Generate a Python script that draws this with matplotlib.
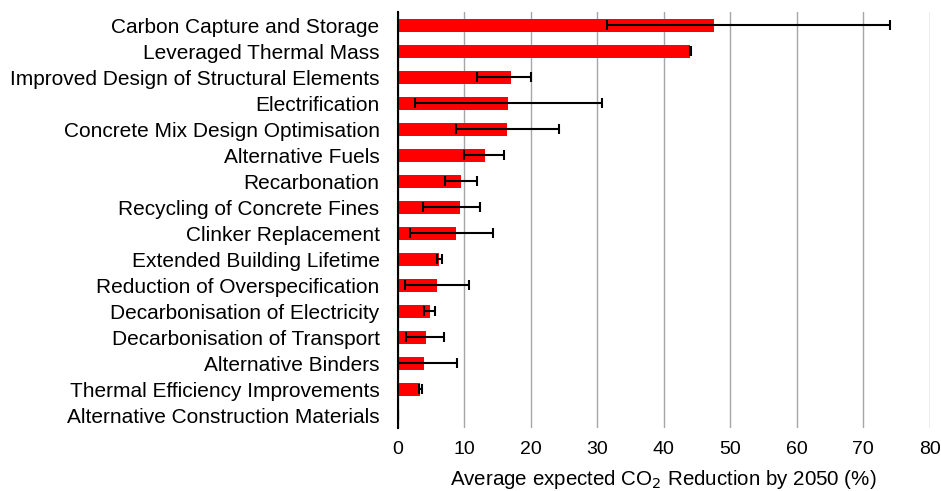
import matplotlib.pyplot as plt
import numpy as np

plt.rcParams['font.family'] = ['Liberation Sans', 'DejaVu Sans']

# 减排措施及其平均预期减排量 (%)
measures = [
    'Carbon Capture and Storage',
    'Leveraged Thermal Mass',
    'Improved Design of Structural Elements',
    'Electrification',
    'Concrete Mix Design Optimisation',
    'Alternative Fuels',
    'Recarbonation',
    'Recycling of Concrete Fines',
    'Clinker Replacement',
    'Extended Building Lifetime',
    'Reduction of Overspecification',
    'Decarbonisation of Electricity',
    'Decarbonisation of Transport',
    'Alternative Binders',
    'Thermal Efficiency Improvements',
    'Alternative Construction Materials',
]
reduction = [47.6, 43.9, 17.0, 16.6, 16.5, 13.2, 9.6, 9.4, 8.8, 6.3, 6.0, 4.8, 4.2, 3.9, 3.4, 0.0]
# 误差范围（下限、上限）
err_low = [16.1, 0.0, 5.1, 14.0, 7.7, 3.2, 2.4, 5.6, 6.9, 0.4, 4.9, 0.8, 2.9, 3.8, 0.2, 0.0]
err_high = [26.5, 0.2, 3.0, 14.1, 7.7, 2.8, 2.3, 3.0, 5.5, 0.4, 4.8, 0.9, 2.8, 5.1, 0.3, 0.0]
xticks = [0, 10, 20, 30, 40, 50, 60, 70, 80]

fig = plt.figure(figsize=(9.41, 4.91), dpi=100)
ax = fig.add_axes([0.4225, 0.128, 0.5655, 0.8475])

y = np.arange(len(measures))
ax.barh(y, reduction, height=0.5, color='#ff0000', zorder=2)
ax.errorbar(reduction, y, xerr=[err_low, err_high], fmt='none',
            ecolor='black', elinewidth=1.5, capsize=3.5, capthick=1.5, zorder=3)

ax.set_yticks(y)
ax.set_yticklabels(measures, fontsize=15)
ax.set_ylim(len(measures) - 0.5, -0.5)
ax.set_xlim(0, 80)
ax.set_xticks(xticks)
ax.tick_params(axis='x', labelsize=14, length=0, pad=9.5)
ax.tick_params(axis='y', length=0, pad=13)
ax.set_xlabel('Average expected CO$_2$ Reduction by 2050 (%)', fontsize=14.8, labelpad=7)

ax.grid(axis='x', color='#a6a6a6', linewidth=1.0, zorder=0)
ax.set_axisbelow(True)
for side in ['top', 'right', 'bottom']:
    ax.spines[side].set_visible(False)
ax.spines['left'].set_color('black')
ax.spines['left'].set_linewidth(1.5)
ax.spines['left'].set_zorder(4)

fig.savefig('out.png', dpi=100)
